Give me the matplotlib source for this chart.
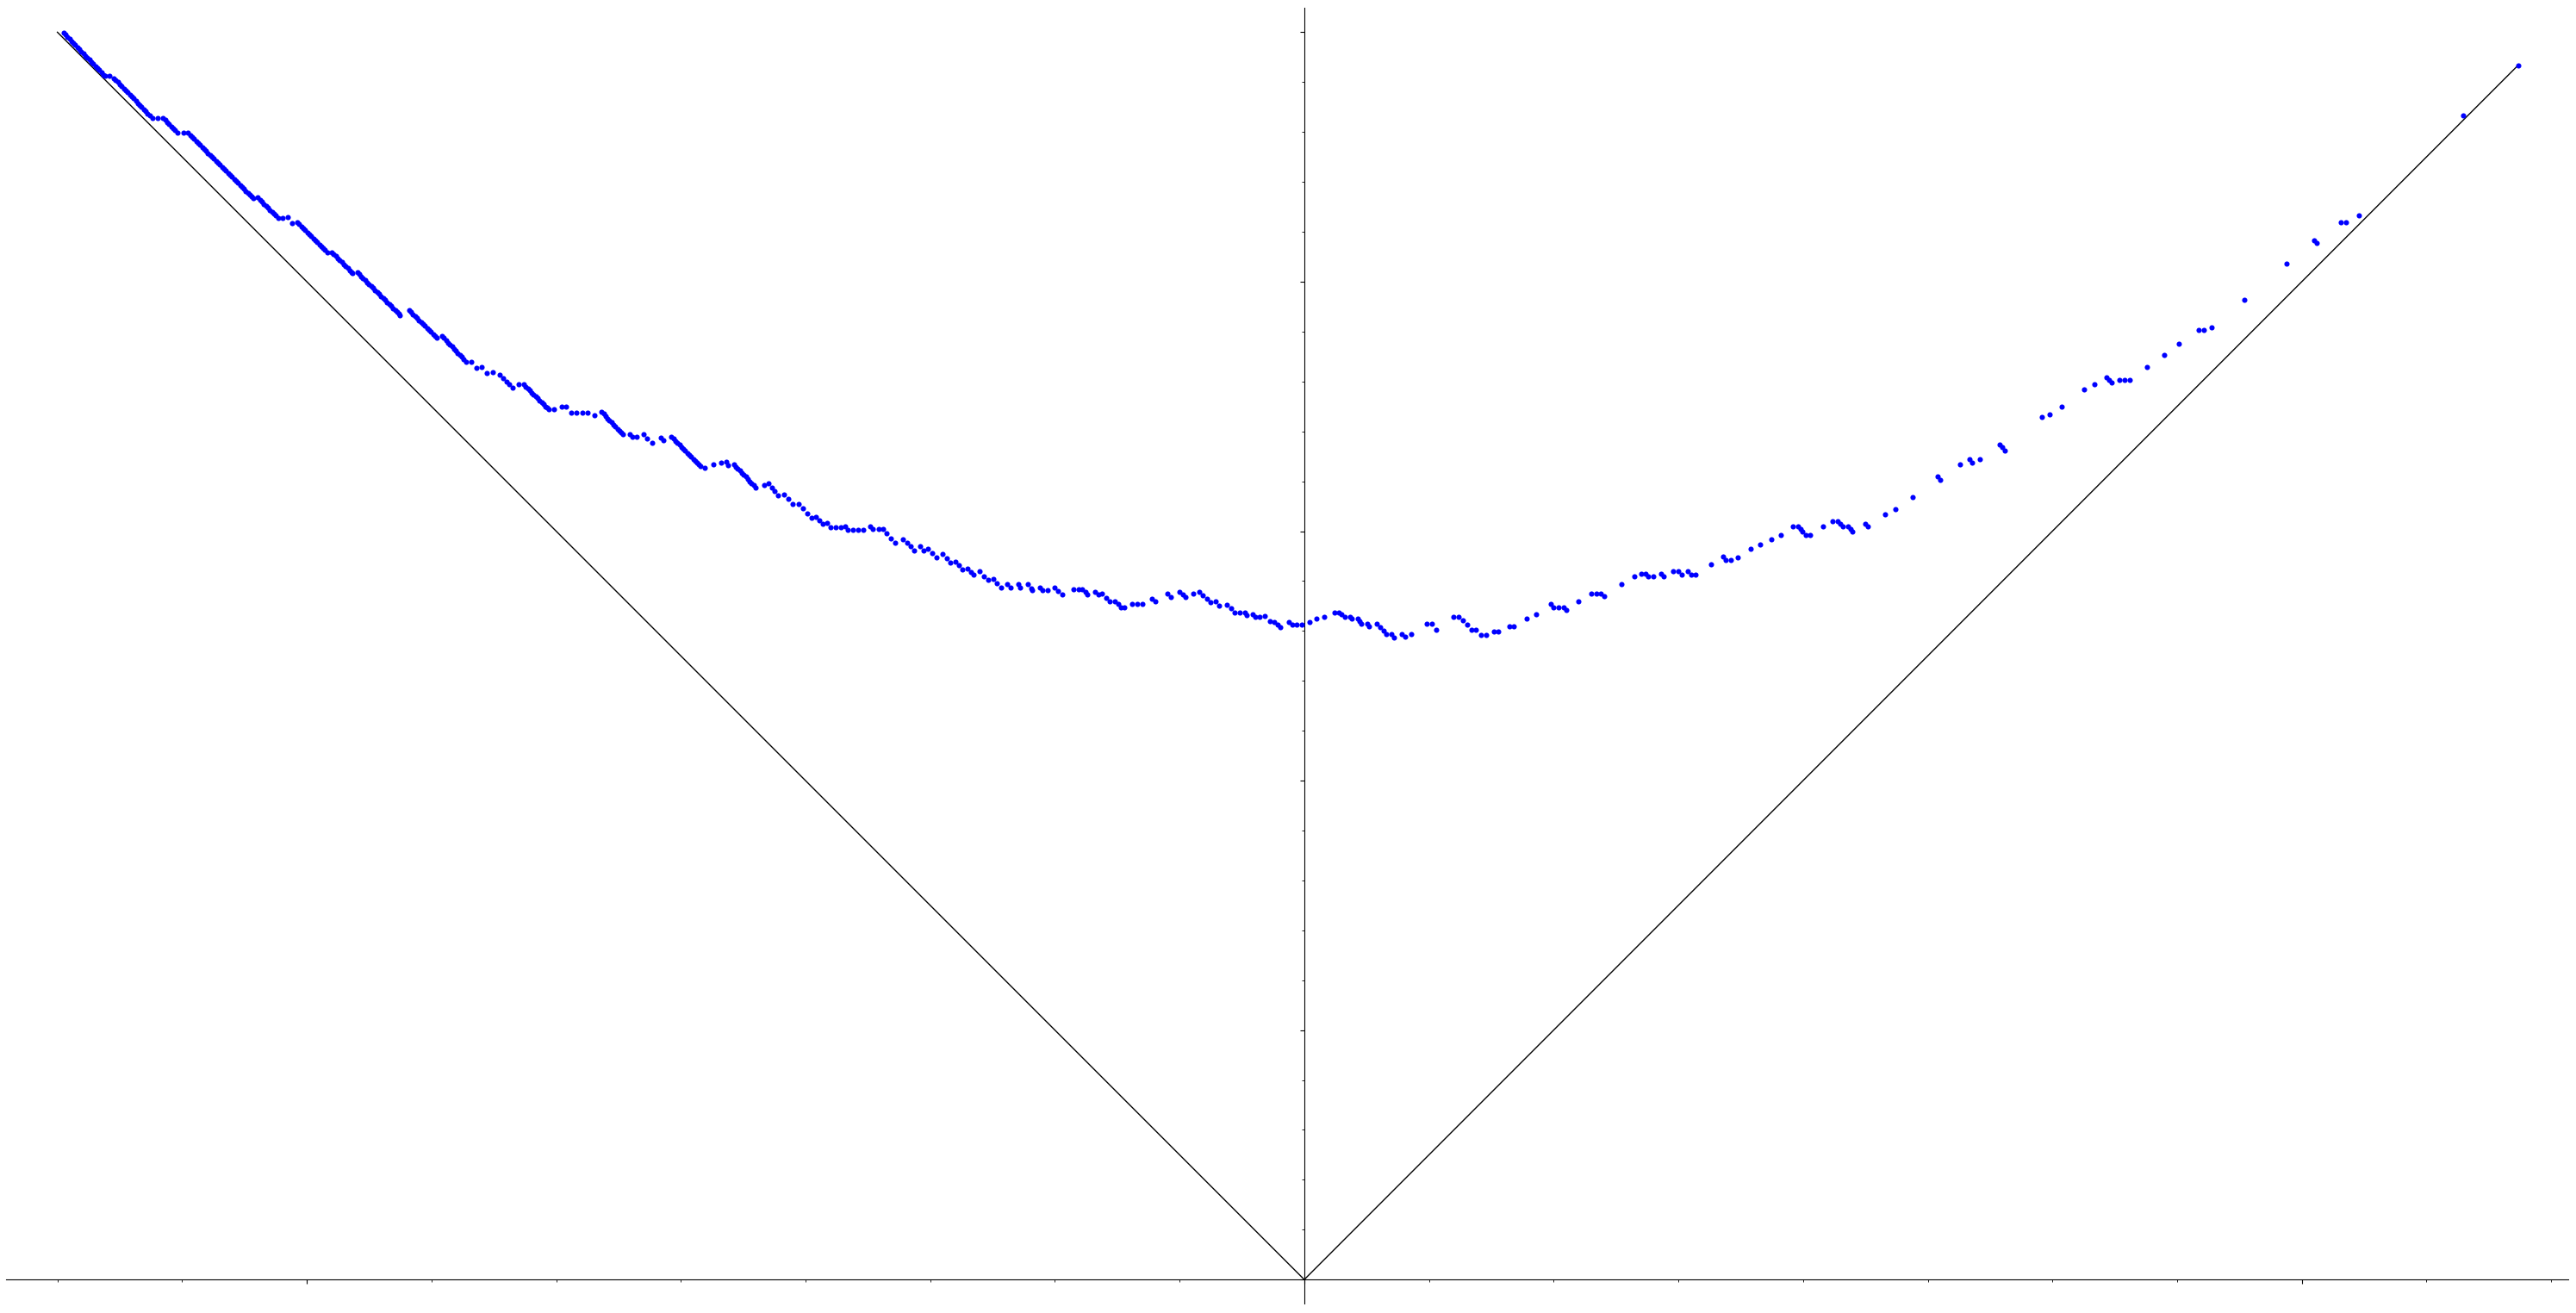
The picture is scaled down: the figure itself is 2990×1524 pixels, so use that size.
import numpy as np
import matplotlib
matplotlib.use("Agg")
import matplotlib.pyplot as plt
from matplotlib.ticker import MultipleLocator, NullFormatter

# points left of the vertical axis (staircase runs)
left_x = [-24.88, -24.84, -24.80, -24.76, -24.72, -24.68, -24.64, -24.60, -24.56, -24.52, -24.48, -24.44, -24.40, -24.36, -24.32, -24.28, -24.24, -24.20, -24.16, -24.12, -24.08, -24.05,
          -23.95, -23.87,
          -23.83, -23.79, -23.75, -23.71, -23.67, -23.63, -23.59, -23.55, -23.51, -23.47, -23.43, -23.39, -23.35, -23.31, -23.27, -23.23, -23.19, -23.15, -23.10,
          -22.99, -22.88,
          -22.84, -22.80, -22.76, -22.72, -22.68, -22.64, -22.59,
          -22.48, -22.38,
          -22.34, -22.30, -22.26, -22.22, -22.18, -22.14, -22.10, -22.06, -22.02, -21.98, -21.94, -21.90, -21.86, -21.82, -21.78, -21.74, -21.70, -21.66, -21.62, -21.58, -21.54, -21.50, -21.46, -21.42, -21.38, -21.34, -21.30, -21.26, -21.22, -21.18, -21.14, -21.11, -21.08,
          -20.98,
          -20.94, -20.90, -20.86, -20.82, -20.78, -20.74, -20.70, -20.66, -20.62, -20.58,
          -20.48, -20.39, -20.29, -20.19,
          -20.15, -20.11, -20.07, -20.03, -19.99, -19.95, -19.91, -19.87, -19.83, -19.79, -19.75, -19.71, -19.67, -19.63, -19.59,
          -19.50,
          -19.46, -19.42, -19.38, -19.34, -19.30, -19.26, -19.22, -19.18, -19.14, -19.10, -19.08,
          -18.99,
          -18.95, -18.91, -18.87, -18.83, -18.79, -18.75, -18.71, -18.67, -18.63, -18.59, -18.55, -18.51, -18.47, -18.43, -18.39, -18.35, -18.31, -18.27, -18.23, -18.19, -18.16, -18.13,
          -17.95, -17.91, -17.87, -17.83, -17.79, -17.75, -17.71, -17.67, -17.63, -17.59, -17.55, -17.51, -17.47, -17.43, -17.39,
          -17.29, -17.25, -17.21, -17.17, -17.13, -17.09, -17.05, -17.01, -16.97, -16.93, -16.89, -16.85, -16.81,
          -16.71, -16.59, -16.49, -16.39, -16.27,
          -16.14, -16.07, -16.00, -15.94, -15.87,
          -15.76,
          -15.65, -15.61, -15.57, -15.53, -15.49, -15.45, -15.41, -15.37, -15.33, -15.29, -15.25, -15.21, -15.18, -15.15,
          -15.04, -14.88, -14.81, -14.70, -14.60, -14.48, -14.37, -14.24,
          -14.09, -14.05, -14.01, -13.97, -13.93, -13.89, -13.85, -13.81, -13.77, -13.73, -13.70, -13.66,
          -13.53, -13.48, -13.39,
          -13.25, -13.17, -13.08,
          -12.90, -12.85,
          -12.69, -12.65, -12.61, -12.57, -12.53, -12.49, -12.45, -12.41, -12.37, -12.33, -12.29, -12.25, -12.21, -12.17, -12.14, -12.11,
          -12.02, -11.84, -11.69, -11.59, -11.55,
          -11.44, -11.40, -11.36, -11.32, -11.28, -11.24, -11.20, -11.16, -11.12, -11.08, -11.04, -11.00,
          -10.83, -10.75, -10.68, -10.62, -10.55,
          -10.44, -10.35, -10.26,
          -10.14, -10.05, -9.97, -9.88,
          -9.79, -9.72, -9.65,
          -9.56, -9.50, -9.40, -9.29, -9.21, -9.15, -9.05, -8.95, -8.84, -8.70, -8.65, -8.54,
          -8.45, -8.37, -8.29, -8.20,
          -8.04, -7.97, -7.90, -7.83,
          -7.70, -7.64,
          -7.54, -7.46, -7.37,
          -7.25, -7.17, -7.09,
          -6.99, -6.92, -6.85,
          -6.75, -6.69, -6.64,
          -6.51, -6.42, -6.34,
          -6.24, -6.16, -6.08,
          -5.95, -5.89, -5.74, -5.69, -5.54, -5.48, -5.45, -5.30, -5.25, -5.15,
          -5.00, -4.93, -4.85,
          -4.63, -4.53, -4.45, -4.39, -4.35, -4.20, -4.13,
          -4.05, -3.97, -3.90,
          -3.79, -3.73, -3.68,
          -3.60, -3.45, -3.35, -3.25, -3.05, -2.99, -2.75, -2.67,
          -2.50, -2.44, -2.39,
          -2.23,
          -2.10, -2.03, -1.95, -1.88,
          -1.78, -1.70,
          -1.55, -1.47, -1.39,
          -1.29, -1.19, -1.15, -1.04, -0.99, -0.89,
          -0.79, -0.69,
          -0.60, -0.54, -0.48,
          -0.31, -0.24, -0.16, -0.05]
left_y = [24.99, 24.95, 24.91, 24.87, 24.82, 24.78, 24.74, 24.70, 24.66, 24.61, 24.57, 24.53, 24.49, 24.45, 24.40, 24.36, 24.32, 24.28, 24.24, 24.19, 24.15, 24.12,
          24.12, 24.08,
          24.04, 24.00, 23.96, 23.92, 23.87, 23.83, 23.79, 23.75, 23.71, 23.67, 23.62, 23.58, 23.54, 23.50, 23.46, 23.42, 23.37, 23.33, 23.28,
          23.28, 23.28,
          23.24, 23.20, 23.16, 23.11, 23.07, 23.03, 22.98,
          22.98, 22.98,
          22.94, 22.90, 22.86, 22.82, 22.78, 22.74, 22.70, 22.66, 22.62, 22.58, 22.54, 22.50, 22.46, 22.42, 22.38, 22.34, 22.30, 22.26, 22.22, 22.18, 22.14, 22.10, 22.06, 22.02, 21.98, 21.94, 21.90, 21.86, 21.82, 21.78, 21.74, 21.71, 21.68,
          21.69,
          21.64, 21.60, 21.56, 21.52, 21.48, 21.44, 21.40, 21.36, 21.32, 21.28,
          21.28, 21.29, 21.18, 21.19,
          21.15, 21.11, 21.07, 21.03, 20.99, 20.95, 20.91, 20.87, 20.83, 20.79, 20.75, 20.71, 20.67, 20.63, 20.59,
          20.59,
          20.55, 20.51, 20.47, 20.43, 20.39, 20.35, 20.31, 20.27, 20.23, 20.19, 20.17,
          20.19,
          20.15, 20.11, 20.07, 20.03, 19.99, 19.95, 19.91, 19.87, 19.83, 19.79, 19.75, 19.71, 19.67, 19.63, 19.59, 19.55, 19.51, 19.47, 19.43, 19.39, 19.36, 19.33,
          19.43, 19.39, 19.35, 19.31, 19.27, 19.23, 19.19, 19.15, 19.11, 19.07, 19.03, 18.99, 18.95, 18.91, 18.87,
          18.91, 18.87, 18.83, 18.78, 18.74, 18.70, 18.66, 18.62, 18.57, 18.53, 18.49, 18.44, 18.40,
          18.39, 18.28, 18.29, 18.17, 18.19,
          18.13, 18.07, 18.00, 17.94, 17.88,
          17.94,
          17.94, 17.90, 17.86, 17.82, 17.78, 17.74, 17.70, 17.66, 17.62, 17.58, 17.54, 17.50, 17.47, 17.44,
          17.44, 17.50, 17.50, 17.38, 17.38, 17.38, 17.38, 17.33,
          17.39, 17.35, 17.31, 17.26, 17.22, 17.18, 17.14, 17.10, 17.05, 17.01, 16.98, 16.94,
          16.94, 16.89, 16.89,
          16.94, 16.86, 16.77,
          16.88, 16.83,
          16.89, 16.85, 16.81, 16.77, 16.73, 16.69, 16.65, 16.61, 16.57, 16.53, 16.49, 16.45, 16.41, 16.37, 16.34, 16.31,
          16.27, 16.33, 16.38, 16.39, 16.32,
          16.33, 16.29, 16.25, 16.21, 16.17, 16.13, 16.09, 16.04, 16.00, 15.96, 15.92, 15.88,
          15.93, 15.95, 15.87, 15.80, 15.72,
          15.73, 15.64, 15.54,
          15.54, 15.45, 15.36, 15.26,
          15.28, 15.21, 15.14,
          15.16, 15.08, 15.08, 15.08, 15.09, 15.03, 15.03, 15.03, 15.03, 15.09, 15.04, 15.04,
          15.04, 14.95, 14.86, 14.77,
          14.84, 14.77, 14.69, 14.62,
          14.70, 14.62,
          14.64, 14.56, 14.48,
          14.55, 14.46, 14.37,
          14.39, 14.31, 14.23,
          14.25, 14.18, 14.12,
          14.19, 14.10, 14.02,
          14.04, 13.95, 13.87,
          13.93, 13.87, 13.93, 13.87, 13.93, 13.86, 13.82, 13.87, 13.82, 13.82,
          13.87, 13.80, 13.73,
          13.83, 13.83, 13.83, 13.79, 13.73, 13.79, 13.73,
          13.74, 13.66, 13.59,
          13.60, 13.54, 13.48,
          13.48, 13.54, 13.54, 13.54, 13.64, 13.59, 13.74, 13.68,
          13.79, 13.73, 13.68,
          13.74,
          13.79, 13.72, 13.64, 13.57,
          13.59, 13.50,
          13.53, 13.45, 13.37,
          13.37, 13.37, 13.32, 13.33, 13.29, 13.29,
          13.30, 13.20,
          13.18, 13.12, 13.07,
          13.18, 13.13, 13.13, 13.13]

# points right of the vertical axis
right_x = [0.10, 0.25, 0.40, 0.60, 0.70, 0.75, 0.81, 0.91, 0.96, 1.07, 1.11, 1.15, 1.26, 1.30,
           1.46, 1.52, 1.59, 1.65,
           1.74, 1.80, 1.96, 2.02, 2.15, 2.45, 2.55, 2.65,
           2.99, 3.10, 3.18, 3.27, 3.36,
           3.44, 3.55, 3.65, 3.80, 3.89, 4.11, 4.20, 4.45, 4.65,
           4.94, 5.00, 5.10, 5.20, 5.26, 5.50, 5.76, 5.85, 5.95, 6.01,
           6.35, 6.61, 6.75, 6.84, 6.90, 7.00, 7.16, 7.20, 7.40, 7.50, 7.56, 7.69, 7.75, 7.85,
           8.15, 8.39, 8.45, 8.55, 8.69, 8.95, 9.14, 9.36, 9.55,
           9.80, 9.90, 9.95, 9.99, 10.05, 10.14, 10.40, 10.59, 10.70, 10.75, 10.80, 10.90, 10.95, 10.99, 11.25, 11.30,
           11.65, 11.85, 12.20, 12.69, 12.75, 13.15, 13.34, 13.39, 13.55, 13.94, 13.99, 14.05,
           14.79, 14.94, 15.19, 15.64, 15.84, 16.08, 16.14, 16.19, 16.35, 16.45, 16.55, 16.90, 17.24,
           17.54, 17.94, 18.04, 18.19, 18.85, 19.69, 20.24, 20.30, 20.78, 20.88, 21.14, 23.24, 24.34]
right_y = [13.18, 13.24, 13.29, 13.37, 13.37, 13.33, 13.29, 13.29, 13.24, 13.24, 13.20, 13.14, 13.14, 13.09,
           13.14, 13.07, 13.00, 12.93,
           12.94, 12.87, 12.94, 12.88, 12.94, 13.14, 13.14, 13.03,
           13.29, 13.29, 13.21, 13.12, 13.03,
           13.03, 12.92, 12.92, 12.98, 12.98, 13.09, 13.09, 13.24, 13.33,
           13.54, 13.47, 13.48, 13.48, 13.42, 13.59, 13.74, 13.74, 13.74, 13.69,
           13.93, 14.09, 14.14, 14.14, 14.09, 14.09, 14.14, 14.09, 14.19, 14.19, 14.13, 14.19, 14.13, 14.13,
           14.33, 14.49, 14.43, 14.43, 14.48, 14.64, 14.73, 14.83, 14.93,
           15.09, 15.09, 15.04, 14.99, 14.93, 14.93, 15.09, 15.19, 15.19, 15.14, 15.09, 15.09, 15.04, 14.99, 15.14, 15.09,
           15.33, 15.44, 15.68, 16.09, 16.03, 16.33, 16.44, 16.38, 16.44, 16.74, 16.68, 16.62,
           17.28, 17.34, 17.49, 17.84, 17.94, 18.08, 18.03, 17.98, 18.03, 18.03, 18.03, 18.29, 18.53,
           18.76, 19.03, 19.03, 19.08, 19.63, 20.37, 20.82, 20.78, 21.19, 21.19, 21.32, 23.33, 24.33]

# the |x| guide line
line_x = [-25.0, 0.0, 24.34]
line_y = [25.0, 0.0, 24.34]

x = np.array(left_x + right_x)
y = np.array(left_y + right_y)

fig = plt.figure(figsize=(29.9, 15.24), dpi=100)
ax = fig.add_axes([0.00234, 0.00722, 0.9946, 0.98688])

ax.plot(line_x, line_y, color="k", lw=1.0, zorder=2)
ax.plot(x, y, "o", color="b", ms=4.4, mew=0, zorder=3)

ax.set_xlim(-26.03, 25.34)
ax.set_ylim(-0.48, 25.49)

# axes through the origin, no labels
ax.spines["left"].set_position(("data", 0))
ax.spines["bottom"].set_position(("data", 0))
ax.spines["right"].set_visible(False)
ax.spines["top"].set_visible(False)
ax.xaxis.set_ticks_position("bottom")
ax.yaxis.set_ticks_position("left")
ax.xaxis.set_major_locator(MultipleLocator(20))
ax.xaxis.set_minor_locator(MultipleLocator(2.5))
ax.yaxis.set_major_locator(MultipleLocator(5))
ax.yaxis.set_minor_locator(MultipleLocator(1))
ax.xaxis.set_major_formatter(NullFormatter())
ax.yaxis.set_major_formatter(NullFormatter())

fig.savefig("out.png", dpi=100)
